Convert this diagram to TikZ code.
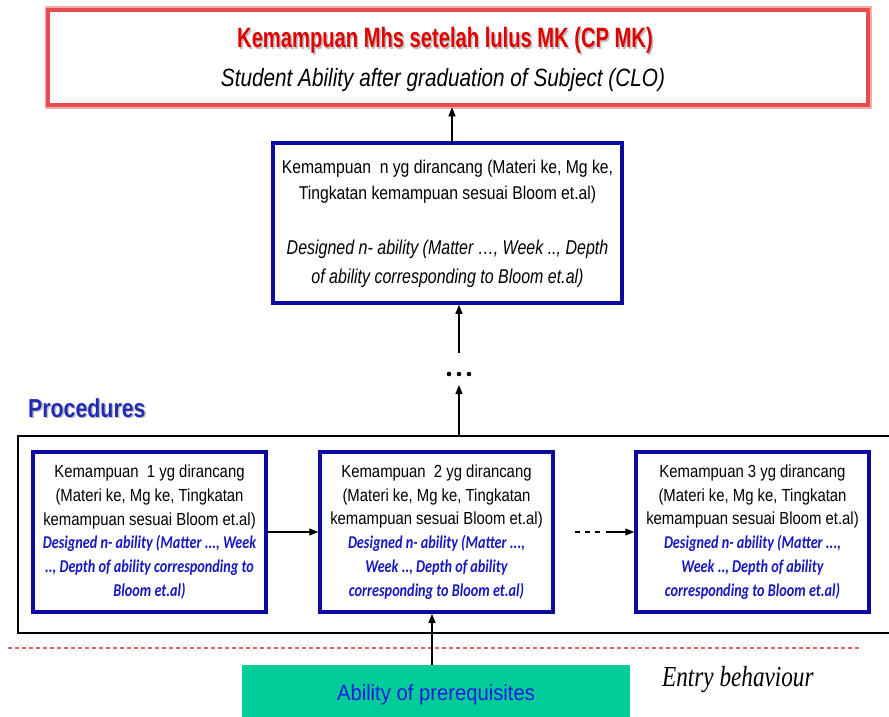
\documentclass[tikz,border=0pt]{standalone}
\usepackage{fontspec}
\setmainfont{Liberation Sans}
\newfontfamily\titlesans[FakeStretch=0.72]{Liberation Sans}
\newfontfamily\capsans[FakeStretch=0.83]{Liberation Sans}
\newfontfamily\narrowsans[FakeStretch=0.85]{Liberation Sans}
\newfontfamily\italsans[FakeStretch=0.80]{Liberation Sans}
\newfontfamily\headsans[FakeStretch=0.82]{Liberation Sans}
\newfontfamily\prereqsans[FakeStretch=0.92]{Liberation Sans}
\newfontfamily\calib[FakeStretch=0.79]{Carlito}
\newfontfamily\serifcond[FakeStretch=0.80]{Liberation Serif}
\usetikzlibrary{arrows.meta}

\definecolor{boxblue}{HTML}{0B0BA0}
\definecolor{textblue}{HTML}{1818C0}
\definecolor{headblue}{HTML}{1E2AB8}
\definecolor{framered}{HTML}{E84C4C}
\definecolor{titlered}{HTML}{E00000}
\definecolor{prereqgreen}{HTML}{00CC99}
\definecolor{prereqtextblue}{HTML}{1A1AE0}
\definecolor{dashred}{HTML}{E06464}

\newcommand{\bluei}[1]{{\calib\bfseries\itshape\color{textblue}\fontsize{18}{23.8}\selectfont#1}}

\tikzset{
  bluebox/.style={draw=boxblue, line width=3.5pt, fill=white, inner sep=0pt,
    minimum width=233pt, minimum height=160pt, align=center,
    font=\narrowsans\fontsize{17.5}{23.8}\selectfont},
  arr/.style={-{Triangle[length=9pt,width=7pt]}, line width=1.2pt},
  lbl/.style={inner sep=0pt, anchor=base},
}

\begin{document}
\begin{tikzpicture}[x=1pt,y=-1pt]
\path[use as bounding box, fill=white] (0,0) rectangle (889,717);
\clip (0,0) rectangle (889,717);

% outcome of the course
\node[draw=framered!45, line width=7pt, minimum width=820pt, minimum height=95pt, inner sep=0pt] (cloglow) at (458,57.5) {};
\node[draw=framered, line width=4.5pt, fill=white, minimum width=820pt, minimum height=95pt, inner sep=0pt] (clo) at (458,57.5) {};
\node[lbl, text=black!25, font=\titlesans\bfseries\fontsize{28}{32}\selectfont] (clotitleshadow) at (446.5,49.5) {Kemampuan Mhs setelah lulus MK (CP MK)};
\node[lbl, text=titlered, font=\titlesans\bfseries\fontsize{28}{32}\selectfont] (clotitle) at (445,48) {Kemampuan Mhs setelah lulus MK (CP MK)};
\node[lbl, font=\capsans\itshape\fontsize{25}{30}\selectfont] (closub) at (443,86) {Student Ability after graduation of Subject (CLO)};

% n-th designed ability
\node[draw=boxblue, line width=3.5pt, fill=white, minimum width=349pt, minimum height=160pt, inner sep=0pt] (mid) at (447.5,223) {};
\node[lbl, font=\narrowsans\fontsize{18.5}{22}\selectfont] (midA) at (447.5,173) {Kemampuan\ \ n yg dirancang (Materi ke, Mg ke,};
\node[lbl, font=\narrowsans\fontsize{18.5}{22}\selectfont] (midB) at (447.5,199) {Tingkatan kemampuan sesuai Bloom et.al)};
\node[lbl, font=\italsans\itshape\fontsize{20}{24}\selectfont] (midC) at (447.5,254) {Designed n- ability (Matter …, Week .., Depth};
\node[lbl, font=\italsans\itshape\fontsize{20}{24}\selectfont] (midD) at (447.5,283) {of ability corresponding to Bloom et.al)};

% procedures frame
\node[lbl, text=black!25, font=\headsans\bfseries\fontsize{26}{30}\selectfont, anchor=base west] (procheadshadow) at (29.5,418.5) {Procedures};
\node[lbl, text=headblue, font=\headsans\bfseries\fontsize{26}{30}\selectfont, anchor=base west] (prochead) at (28,417) {Procedures};
\node[draw, line width=1.3pt, minimum width=880pt, minimum height=197pt, inner sep=0pt] (proc) at (458,534.5) {};

\node[bluebox] (b1) at (149.5,532) {%
  Kemampuan\ \ 1 yg dirancang\\
  (Materi ke, Mg ke, Tingkatan\\
  kemampuan sesuai Bloom et.al)\\
  \bluei{Designed n- ability (Matter ..., Week}\\
  \bluei{.., Depth of ability corresponding to}\\
  \bluei{Bloom et.al)}};
\node[bluebox] (b2) at (436.5,532) {%
  Kemampuan\ \ 2 yg dirancang\\
  (Materi ke, Mg ke, Tingkatan\\
  kemampuan sesuai Bloom et.al)\\
  \bluei{Designed n- ability (Matter ...,}\\
  \bluei{Week .., Depth of ability}\\
  \bluei{corresponding to Bloom et.al)}};
\node[bluebox] (b3) at (752.5,532) {%
  Kemampuan 3 yg dirancang\\
  (Materi ke, Mg ke, Tingkatan\\
  kemampuan sesuai Bloom et.al)\\
  \bluei{Designed n- ability (Matter ...,}\\
  \bluei{Week .., Depth of ability}\\
  \bluei{corresponding to Bloom et.al)}};

% links between the designed abilities
\draw[arr] (b1.east) -- (b2.west);
\coordinate (gapA) at (575,532);
\coordinate (gapB) at (602,532);
\draw[line width=1.2pt, dash pattern=on 5pt off 5pt] (gapA) -- (gapB);
\coordinate (gapC) at (606,532);
\draw[arr] (gapC) -- (b3.west);

% climb from the procedures to the n-th ability
\coordinate (climbBase) at (459,436);
\coordinate (climbLow) at (459,385);
\coordinate (climbHigh) at (459,353);
\draw[arr] (climbBase) -- (climbLow);
\node[inner sep=0pt] (dots) at (459,374) {};
\foreach \dx in {-10,0,10} \fill (dots) ++(\dx,0) circle (2.3pt);
\draw[arr] (climbHigh) -- (climbHigh |- mid.south);
\coordinate (toCLO) at (452,143);
\draw[arr] (toCLO) -- (toCLO |- clo.south);

% entry behaviour
\coordinate (dashL) at (8,648);
\coordinate (dashR) at (862,648);
\draw[dashred, line width=1.4pt, dash pattern=on 4pt off 3pt] (dashL) -- (dashR);
\node[fill=prereqgreen, minimum width=388pt, minimum height=60pt, inner sep=0pt] (prereq) at (436,695) {};
\node[lbl, text=prereqtextblue, font=\prereqsans\fontsize{22}{26}\selectfont] (prereqtext) at (436,700) {Ability of prerequisites};
\coordinate (entryUp) at (432,665);
\draw[arr] (entryUp) -- (entryUp |- b2.south);
\node[lbl, anchor=base west, font=\serifcond\itshape\fontsize{29}{32}\selectfont] (entry) at (662,686) {Entry behaviour};
\end{tikzpicture}
\end{document}
